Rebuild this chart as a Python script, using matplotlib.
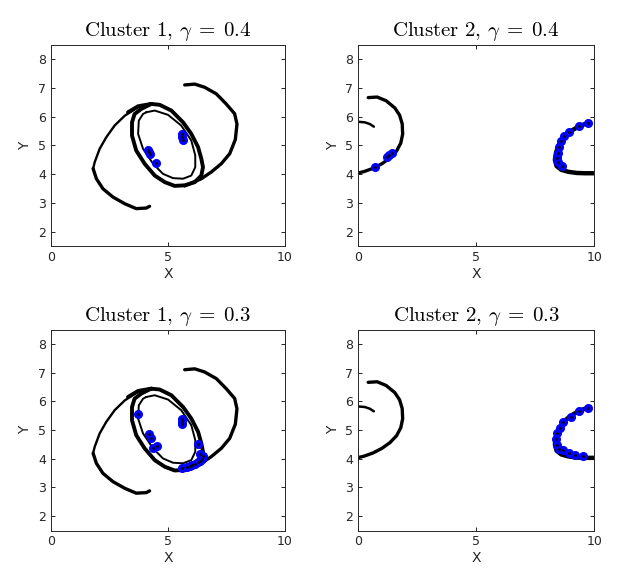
import matplotlib
matplotlib.use("Agg")
import matplotlib.pyplot as plt

plt.rcParams['mathtext.fontset'] = 'cm'
plt.rcParams['font.family'] = 'DejaVu Sans'

# ---- cluster 1 geometry ----
left_top_x = [3.73, 3.16, 2.73, 2.37, 2.09, 1.88, 1.81]
left_top_y = [6.33, 6.03, 5.69, 5.28, 4.88, 4.42, 4.19]
left_bot_x = [1.81, 1.95, 2.23, 2.66, 3.16, 3.65, 4.08, 4.22]
left_bot_y = [4.19, 3.84, 3.49, 3.20, 2.97, 2.80, 2.82, 2.88]

outer_x = [3.30, 3.73, 4.29, 4.65, 5.15, 5.65, 6.00, 6.29, 6.43, 6.50, 6.43, 6.15,
           5.72, 5.29, 4.87, 4.44, 4.01, 3.65, 3.47, 3.47, 3.58, 3.87, 4.29]
outer_y = [6.15, 6.36, 6.44, 6.41, 6.21, 5.80, 5.40, 4.94, 4.53, 4.24, 3.95, 3.72,
           3.61, 3.59, 3.72, 3.95, 4.36, 4.82, 5.34, 5.80, 6.09, 6.27, 6.44]

inner_x = [4.08, 4.44, 5.01, 5.57, 6.00, 6.17, 6.17, 6.00, 5.65, 5.22, 4.79, 4.37,
           3.94, 3.73, 3.76, 3.94, 4.08]
inner_y = [6.15, 6.21, 6.06, 5.69, 5.17, 4.65, 4.24, 3.95, 3.84, 3.86, 4.01, 4.36,
           4.88, 5.40, 5.86, 6.09, 6.15]

right_arm_x = [5.72, 6.43, 6.85, 7.28, 7.64, 7.88, 7.95, 7.85, 7.49, 7.07, 6.57, 6.15, 5.72]
right_arm_y = [3.59, 3.84, 4.07, 4.36, 4.71, 5.20, 5.74, 6.10, 6.44, 6.79, 7.02, 7.13, 7.10]

# ---- cluster 2 geometry ----
arc_l_x = [0.42, 0.80, 1.18, 1.55, 1.75, 1.86, 1.88, 1.80, 1.62, 1.34, 1.00, 0.62, 0.25, 0.0]
arc_l_y = [6.66, 6.68, 6.55, 6.30, 6.05, 5.75, 5.39, 5.08, 4.80, 4.56, 4.36, 4.20, 4.09, 4.04]

small_x = [0.0, 0.28, 0.49, 0.66]
small_y = [5.82, 5.80, 5.74, 5.65]

arc_r_x = [9.82, 9.39, 8.97, 8.69, 8.50, 8.38, 8.33, 8.40, 8.60, 8.90, 9.25, 9.60, 10.0]
arc_r_y = [5.80, 5.68, 5.48, 5.28, 5.02, 4.76, 4.50, 4.28, 4.15, 4.08, 4.04, 4.03, 4.03]

# ---- highlighted points ----
c1_g4_x = [5.59, 5.62, 5.66, 4.17, 4.20, 4.24, 4.49]
c1_g4_y = [5.39, 5.30, 5.20, 4.83, 4.76, 4.70, 4.40]

c1_g3_x = [3.74, 5.59, 5.62, 5.59, 4.21, 4.27, 4.38, 4.52, 6.30, 6.37, 6.51, 6.45, 6.37,
           6.30, 6.16, 6.05, 5.95, 5.80, 5.59]
c1_g3_y = [5.54, 5.37, 5.28, 5.20, 4.85, 4.73, 4.39, 4.45, 4.51, 4.16, 4.10, 4.00, 3.93,
           3.88, 3.81, 3.78, 3.76, 3.70, 3.67]

c2_g4_x = [0.71, 1.20, 1.31, 1.41, 9.73, 9.34, 8.94, 8.71, 8.59, 8.50, 8.45, 8.43, 8.47, 8.62]
c2_g4_y = [4.26, 4.58, 4.67, 4.75, 5.78, 5.67, 5.48, 5.31, 5.14, 4.95, 4.75, 4.56, 4.41, 4.28]

c2_g3_x = [9.75, 9.36, 9.00, 8.69, 8.55, 8.43, 8.38, 8.41, 8.52, 8.69, 8.94, 9.18, 9.53]
c2_g3_y = [5.77, 5.66, 5.46, 5.28, 5.08, 4.91, 4.68, 4.47, 4.33, 4.31, 4.19, 4.12, 4.08]

titles = [r"$\mathrm{Cluster\ 1,}\,\gamma\;=\;0.4$", r"$\mathrm{Cluster\ 2,}\,\gamma\;=\;0.4$",
          r"$\mathrm{Cluster\ 1,}\,\gamma\;=\;0.3$", r"$\mathrm{Cluster\ 2,}\,\gamma\;=\;0.3$"]


def cluster1(ax):
    kw = dict(color='k', solid_capstyle='round', solid_joinstyle='round')
    ax.plot(left_top_x, left_top_y, lw=1.7, **kw)
    ax.plot(left_bot_x, left_bot_y, lw=2.4, **kw)
    ax.plot(outer_x, outer_y, lw=2.8, **kw)
    ax.plot(inner_x, inner_y, lw=1.4, **kw)
    ax.plot(right_arm_x, right_arm_y, lw=2.4, **kw)


def cluster2(ax):
    kw = dict(color='k', solid_capstyle='round', solid_joinstyle='round')
    ax.plot(arc_l_x, arc_l_y, lw=2.4, **kw)
    ax.plot(small_x, small_y, lw=1.8, **kw)
    ax.plot(arc_r_x, arc_r_y, lw=3.2, **kw)


def highlight(ax, xs, ys):
    ax.plot(xs, ys, 'o', color='blue', ms=5.5, mec='blue', ls='none')
    ax.plot(xs, ys, '.', color='k', ms=2, ls='none')


fig = plt.figure(figsize=(6.19, 5.86), dpi=100)
W, H = 619.0, 586.0
boxes = [(50.7, 44.7, 285.0, 246.0), (358.3, 44.7, 594.3, 246.0),
         (50.7, 329.5, 285.0, 530.5), (358.3, 329.5, 594.3, 530.5)]
axes = []
for (x0, y0, x1, y1) in boxes:
    axes.append(fig.add_axes([x0 / W, 1 - y1 / H, (x1 - x0) / W, (y1 - y0) / H]))

cluster1(axes[0]); highlight(axes[0], c1_g4_x, c1_g4_y)
cluster2(axes[1]); highlight(axes[1], c2_g4_x, c2_g4_y)
cluster1(axes[2]); highlight(axes[2], c1_g3_x, c1_g3_y)
cluster2(axes[3]); highlight(axes[3], c2_g3_x, c2_g3_y)

for ax, t in zip(axes, titles):
    ax.set_xlim(0, 10)
    ax.set_ylim(1.5, 8.5)
    ax.set_xticks([0, 5, 10])
    ax.set_yticks([2, 3, 4, 5, 6, 7, 8])
    ax.tick_params(direction='in', top=True, right=True, labelsize=9,
                   labelcolor='#262626', length=3, width=0.6)
    for s in ax.spines.values():
        s.set_linewidth(0.7)
        s.set_color('#262626')
    ax.set_xlabel('X', fontsize=10, color='#262626', labelpad=2)
    ax.set_ylabel('Y', fontsize=10, color='#262626', labelpad=4)
    ax.set_title(t, fontsize=15, pad=6)

fig.savefig('out.png', dpi=100)
